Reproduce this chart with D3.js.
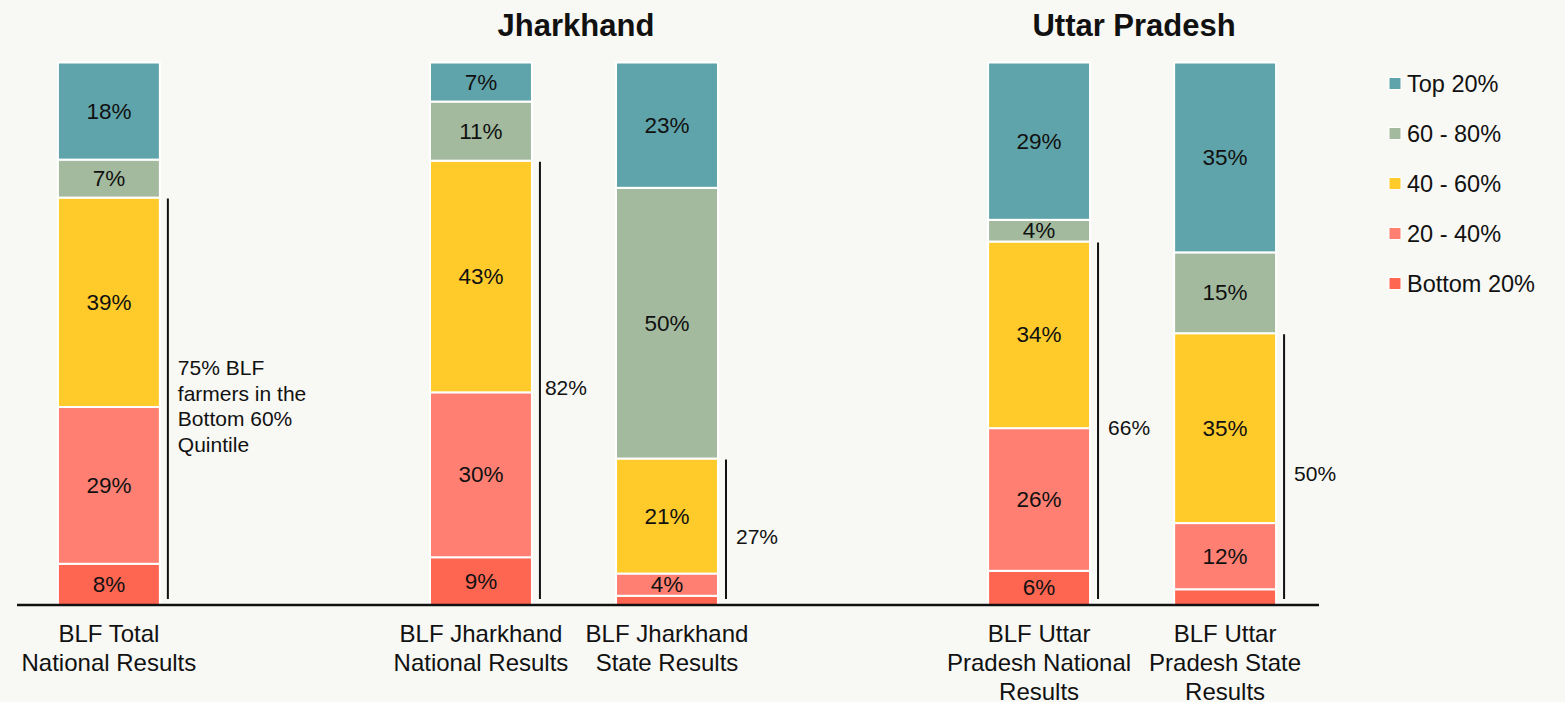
<!DOCTYPE html>
<html>
<head>
<meta charset="utf-8">
<script src="https://cdn.jsdelivr.net/npm/d3@7"></script>
<style>
  html, body { margin: 0; padding: 0; background: #f8f8f4; }
  svg { display: block; font-family: "Liberation Sans", Arial, sans-serif; }
</style>
</head>
<body>
<div id="chart"></div>
<script>
/* data */
const categories = [
  "BLF Total\nNational Results",
  "BLF Jharkhand\nNational Results",
  "BLF Jharkhand\nState Results",
  "BLF Uttar\nPradesh National\nResults",
  "BLF Uttar\nPradesh State\nResults"
];
const seriesNames = ["Bottom 20%", "20 - 40%", "40 - 60%", "60 - 80%", "Top 20%"];
const bottom20 = [7.6, 8.8, 1.7, 6.3, 2.9];
const q20to40  = [28.9, 30.4, 4.1, 26.3, 12.2];
const q40to60  = [38.6, 42.7, 21.2, 34.4, 35.0];
const q60to80  = [7.0, 10.9, 49.9, 4.0, 14.9];
const top20    = [17.9, 7.2, 23.1, 29.0, 35.0];
const bracketLabels = ["75% BLF\nfarmers in the\nBottom 60%\nQuintile", "82%", "27%", "66%", "50%"];
const groupNames = ["Jharkhand", "Uttar Pradesh"];
const groupMembers = [[1, 2], [3, 4]];

const colors = ["#ff6652", "#ff8073", "#ffcb2b", "#a3ba9e", "#5fa4aa"];

const W = 1565, H = 702;
const svg = d3.select("#chart").append("svg")
  .attr("width", W).attr("height", H);

/* rows for the stack */
const seriesValues = [bottom20, q20to40, q40to60, q60to80, top20];
const rows = categories.map((c, i) => {
  const r = { cat: c };
  seriesNames.forEach((s, k) => r[s] = seriesValues[k][i]);
  return r;
});
const stacked = d3.stack().keys(seriesNames)(rows);

/* x: band scale with two spacer slots between the groups */
const slots = [categories[0], "_gap1", categories[1], categories[2], "_gap2", categories[3], categories[4]];
const x = d3.scaleBand().domain(slots).range([17, 1317]).paddingInner(0.452).paddingOuter(0.22);
const y = d3.scaleLinear().domain([0, 100]).range([605, 62.5]);

/* bars */
stacked.forEach((layer, k) => {
  const g = svg.append("g");
  g.selectAll("rect")
    .data(layer)
    .join("rect")
      .attr("x", d => x(d.data.cat))
      .attr("y", d => y(d[1]))
      .attr("width", x.bandwidth())
      .attr("height", d => y(d[0]) - y(d[1]))
      .attr("fill", colors[k])
      .attr("stroke", "#fff")
      .attr("stroke-width", 2);

  g.selectAll("text")
    .data(layer.filter(d => d[1] - d[0] >= 3.5))
    .join("text")
      .attr("x", d => x(d.data.cat) + x.bandwidth() / 2)
      .attr("y", d => (y(d[0]) + y(d[1])) / 2)
      .attr("text-anchor", "middle")
      .attr("dominant-baseline", "central")
      .attr("fill", "#111")
      .style("font-size", "22.5px")
      .text(d => Math.round(d[1] - d[0]) + "%");
});

/* baseline */
svg.append("line")
  .attr("x1", 17).attr("x2", 1319)
  .attr("y1", y(0)).attr("y2", y(0))
  .attr("stroke", "#111").attr("stroke-width", 2.5);

/* brackets for the bottom 60% */
const bottom60 = stacked[2];
categories.forEach((c, i) => {
  const bx = x(c) + x.bandwidth() + 8;
  const top = y(bottom60[i][1]) + 1;
  const bot = y(0) - 6;
  svg.append("line")
    .attr("x1", bx).attr("x2", bx)
    .attr("y1", top).attr("y2", bot)
    .attr("stroke", "#111").attr("stroke-width", 2);

  const lines = bracketLabels[i].split("\n");
  const lh = 25.5;
  const cy = (top + bot) / 2 + 7;
  const dx = i === 1 ? 5 : 10;
  const t = svg.append("text")
    .attr("fill", "#111")
    .style("font-size", "21px");
  lines.forEach((ln, j) => {
    t.append("tspan")
      .attr("x", bx + dx)
      .attr("y", cy + (j - (lines.length - 1) / 2) * lh)
      .attr("dominant-baseline", "central")
      .text(ln);
  });
});

/* category labels */
categories.forEach(c => {
  const t = svg.append("text")
    .attr("text-anchor", "middle")
    .attr("fill", "#111")
    .style("font-size", "24px");
  c.split("\n").forEach((ln, j) => {
    t.append("tspan")
      .attr("x", x(c) + x.bandwidth() / 2)
      .attr("y", 642 + j * 29)
      .text(ln);
  });
});

/* group titles */
groupNames.forEach((name, gi) => {
  const cx = d3.mean(groupMembers[gi], i => x(categories[i]) + x.bandwidth() / 2);
  svg.append("text")
    .attr("x", cx + 2).attr("y", 36)
    .attr("text-anchor", "middle")
    .attr("fill", "#111")
    .style("font-size", "31px")
    .style("font-weight", "bold")
    .text(name);
});

/* legend, top series first */
const legendItems = seriesNames.map((s, k) => ({ s, c: colors[k] })).reverse();
const lg = svg.append("g").attr("transform", "translate(1389,0)");
legendItems.forEach((d, j) => {
  const cy = 83.5 + j * 50;
  lg.append("rect")
    .attr("x", 0).attr("y", cy - 6)
    .attr("width", 12).attr("height", 12)
    .attr("fill", d.c)
    .attr("stroke", "#fff").attr("stroke-width", 1);
  lg.append("text")
    .attr("x", 18).attr("y", cy)
    .attr("dominant-baseline", "central")
    .attr("fill", "#111")
    .style("font-size", "23.5px")
    .text(d.s);
});
</script>
</body>
</html>
